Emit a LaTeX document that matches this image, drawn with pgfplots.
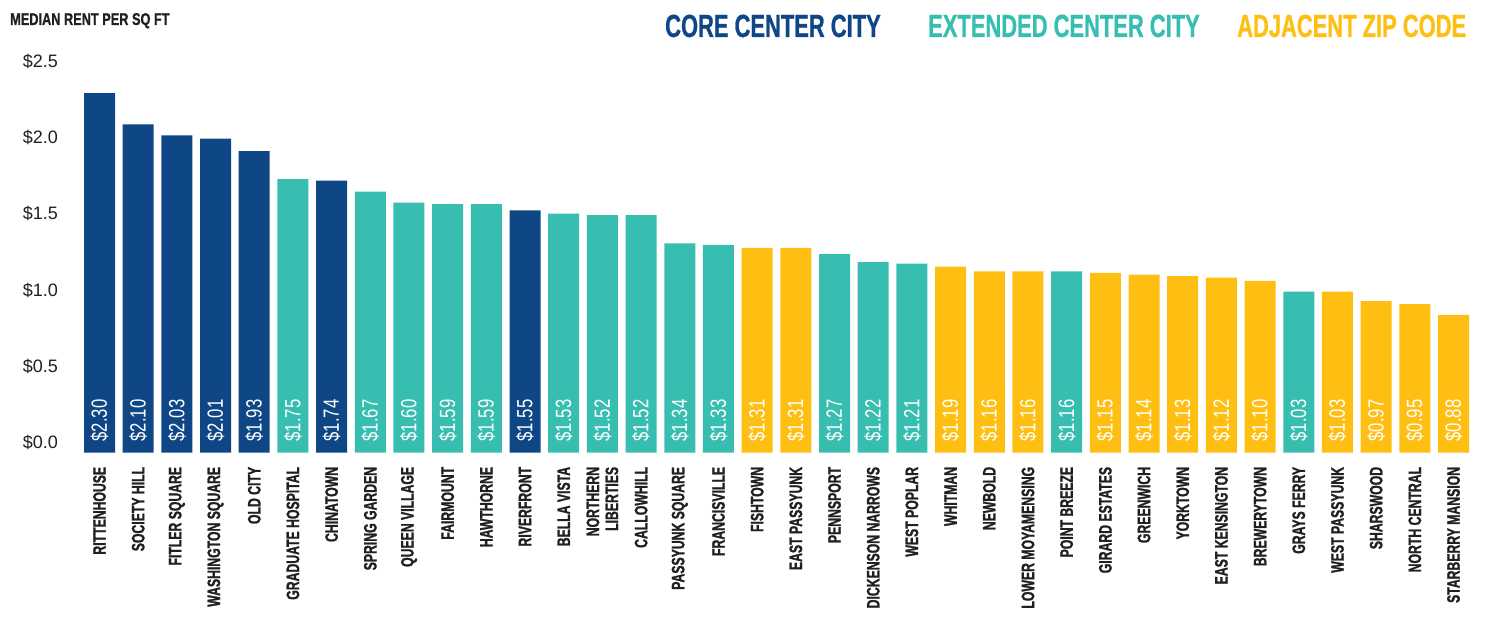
\documentclass[border=0pt]{standalone}
\usepackage{pgfplots}
\usepackage{pgfplotstable}
\pgfplotsset{compat=1.18}
\usepackage{fontspec}
\setmainfont{Liberation Sans}
\newfontfamily\dinb[FakeStretch=0.68,FakeBold=1.2]{Liberation Sans Bold}
\newfontfamily\dint[FakeStretch=0.75,FakeBold=0.8]{Liberation Sans Bold}
\newfontfamily\dinl[FakeStretch=0.685,FakeBold=0.8]{Liberation Sans Bold}
\newfontfamily\dinv[FakeStretch=0.76]{Liberation Sans}
\definecolor{core}{HTML}{0E4686}
\definecolor{ext}{HTML}{37BEB1}
\definecolor{adj}{HTML}{FEBF12}
\definecolor{ink}{HTML}{231F20}

\pgfplotstableread{
i v
0 2.30
1 2.10
2 2.03
3 2.01
4 1.93
6 1.74
11 1.55
}\coretab
\pgfplotstableread{
i v
5 1.75
7 1.67
8 1.60
9 1.59
10 1.59
12 1.53
13 1.52
14 1.52
15 1.34
16 1.33
19 1.27
20 1.22
21 1.21
25 1.16
31 1.03
}\exttab
\pgfplotstableread{
i v
17 1.31
18 1.31
22 1.19
23 1.16
24 1.16
26 1.15
27 1.14
28 1.13
29 1.12
30 1.10
32 1.03
33 0.97
34 0.95
35 0.88
}\adjtab

\pgfplotsset{
  barlab/.style={draw=none, mark=none, point meta=\thisrow{v},
    nodes near coords={\$\pgfmathprintnumber[fixed,fixed zerofill,precision=2,assume math mode=true]{\pgfplotspointmeta}},
    every node near coord/.append style={rotate=90, anchor=west, inner xsep=11bp, inner ysep=0pt,
      text=white, font=\dinv\fontsize{22bp}{24bp}\selectfont}},
}

\begin{document}
\begin{tikzpicture}
\useasboundingbox (0,0) rectangle (1491bp,621bp);
\begin{axis}[
  at={(80.16bp,168.3bp)}, anchor=south west,
  scale only axis, width=1392.7bp, height=392.3bp,
  xmin=-0.5, xmax=35.5, ymin=0, ymax=2.51,
  clip=false,
  axis line style={draw=none},
  major tick length=0pt,
  xtick={0,...,35},
  xticklabels={RITTENHOUSE,SOCIETY HILL,FITLER SQUARE,WASHINGTON SQUARE,OLD CITY,GRADUATE HOSPITAL,CHINATOWN,SPRING GARDEN,QUEEN VILLAGE,FAIRMOUNT,HAWTHORNE,RIVERFRONT,BELLA VISTA,{NORTHERN\\LIBERTIES},CALLOWHILL,PASSYUNK SQUARE,FRANCISVILLE,FISHTOWN,EAST PASSYUNK,PENNSPORT,DICKENSON NARROWS,WEST POPLAR,WHITMAN,NEWBOLD,LOWER MOYAMENSING,POINT BREEZE,GIRARD ESTATES,GREENWICH,YORKTOWN,EAST KENSINGTON,BREWERYTOWN,GRAYS FERRY,WEST PASSYUNK,SHARSWOOD,NORTH CENTRAL,STARBERRY MANSION},
  xticklabel style={rotate=90, anchor=east, inner sep=0pt, align=right, text=ink,
    font=\dinb\fontsize{18bp}{19bp}\selectfont},
  xticklabel shift=14bp,
  ytick={0.064,0.550,1.036,1.529,2.015,2.502},
  yticklabels={\$0.0,\$0.5,\$1.0,\$1.5,\$2.0,\$2.5},
  yticklabel style={anchor=east, inner sep=0pt, text=ink, font=\fontsize{18bp}{20bp}\selectfont},
  yticklabel shift=22bp,
]
\addplot[ybar, bar width=31bp, bar shift=0pt, fill=core, draw=none] table[x=i,y=v]{\coretab};
\addplot[ybar, bar width=31bp, bar shift=0pt, fill=ext, draw=none] table[x=i,y=v]{\exttab};
\addplot[ybar, bar width=31bp, bar shift=0pt, fill=adj, draw=none] table[x=i,y=v]{\adjtab};
\addplot[barlab] table[x=i, y expr=0]{\coretab};
\addplot[barlab] table[x=i, y expr=0]{\exttab};
\addplot[barlab] table[x=i, y expr=0]{\adjtab};
\end{axis}
\node[anchor=base west, inner sep=0pt, text=ink, font=\dint\fontsize{17bp}{18bp}\selectfont] at (10bp,596bp) {MEDIAN RENT PER SQ FT};
\node[anchor=base west, inner sep=0pt, text=core, font=\dinl\fontsize{32bp}{34bp}\selectfont] at (665bp,584bp) {CORE CENTER CITY};
\node[anchor=base west, inner sep=0pt, text=ext, font=\dinl\fontsize{32bp}{34bp}\selectfont] at (928bp,584bp) {EXTENDED CENTER CITY};
\node[anchor=base west, inner sep=0pt, text=adj, font=\dinl\fontsize{32bp}{34bp}\selectfont] at (1237bp,584bp) {ADJACENT ZIP CODE};
\end{tikzpicture}
\end{document}
